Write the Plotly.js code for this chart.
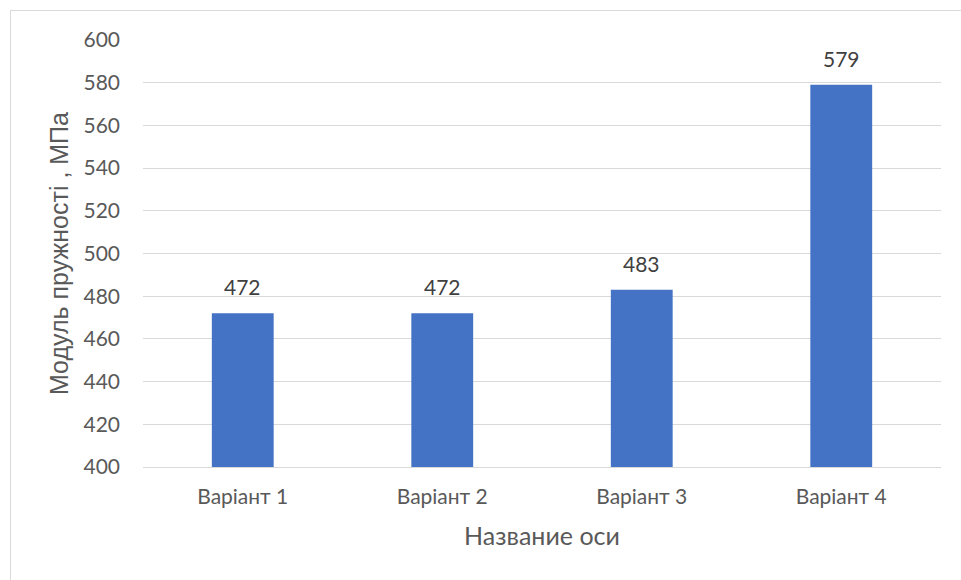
<!DOCTYPE html>
<html>
<head>
<meta charset="utf-8">
<script src="https://cdn.plot.ly/plotly-3.0.1.min.js"></script>
<style>
html,body{margin:0;padding:0;background:#fff;}
#frame{position:absolute;left:10px;top:10px;width:960px;height:580px;border:1px solid #d9d9d9;box-sizing:border-box;}
#chart{position:absolute;left:0;top:0;width:961px;height:580px;}
</style>
</head>
<body>
<div id="frame"></div>
<div id="chart"></div>
<script>
const categories = ["Варіант 1", "Варіант 2", "Варіант 3", "Варіант 4"];
const values = [472, 472, 483, 579];
const yTicks = [400, 420, 440, 460, 480, 500, 520, 540, 560, 580, 600];

const labelFont = {family: "Lato, 'Open Sans', sans-serif", size: 21, color: "#404040"};

const trace = {
  type: "bar",
  x: categories,
  y: values,
  marker: {color: "#4472c4"},
  hoverinfo: "x+y"
};

const annotations = categories.map((c, i) => ({
  x: c, y: values[i], xref: "x", yref: "y",
  text: String(values[i]), showarrow: false,
  yanchor: "bottom", yshift: 12,
  font: labelFont
}));

const layout = {
  width: 961, height: 580,
  margin: {l: 143, r: 20, t: 40, b: 113},
  paper_bgcolor: "rgba(0,0,0,0)",
  plot_bgcolor: "rgba(0,0,0,0)",
  bargap: 0.69,
  showlegend: false,
  xaxis: {
    type: "category",
    showgrid: false,
    showline: true, linecolor: "#d9d9d9", linewidth: 1,
    ticks: "", ticklabelstandoff: 11,
    tickfont: {family: "Lato, 'Open Sans', sans-serif", size: 21, color: "#595959"},
    title: {text: "Название оси", standoff: 20,
      font: {family: "Lato, 'Open Sans', sans-serif", size: 25, color: "#595959"}}
  },
  yaxis: {
    range: [400, 600],
    tickvals: yTicks,
    ticktext: yTicks.map(String),
    showgrid: true, gridcolor: "#d9d9d9", gridwidth: 1,
    zeroline: false, showline: false,
    ticks: "", ticklabelstandoff: 22,
    tickfont: {family: "Lato, 'Open Sans', sans-serif", size: 21, color: "#595959"},
    title: {text: "Модуль пружності , МПа", standoff: 7,
      font: {family: "'Liberation Sans', Arial, sans-serif", size: 25, color: "#595959"}}
  },
  annotations: annotations
};

Plotly.newPlot("chart", [trace], layout, {displayModeBar: false, staticPlot: true});
</script>
</body>
</html>
